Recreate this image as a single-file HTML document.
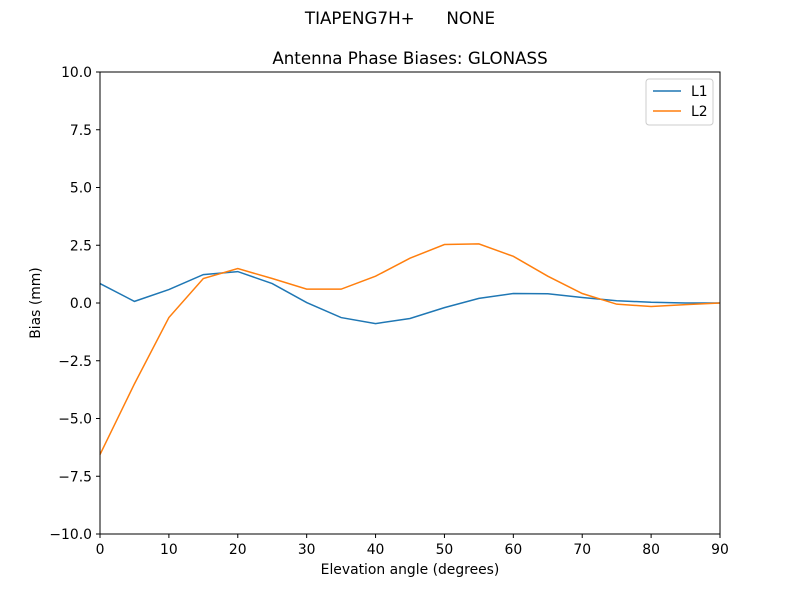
<!DOCTYPE html>
<html><head><meta charset="utf-8"><style>
body{margin:0;background:#fff;}
svg{font-family:"DejaVu Sans","Liberation Sans",sans-serif;}
text{white-space:pre;}
</style></head><body>
<svg id="chart" width="800" height="600">
<rect width="800" height="600" fill="#fff"/>
<text x="400" y="24" font-size="16.7" text-anchor="middle" xml:space="preserve">TIAPENG7H+      NONE</text>
<text x="410" y="64" font-size="16.7" text-anchor="middle">Antenna Phase Biases: GLONASS</text>
<g id="ticks"></g>
<g id="series"></g>
<rect x="100" y="72" width="620" height="462" fill="none" stroke="#000" stroke-width="1"/>
<text x="410" y="574" font-size="13.9" text-anchor="middle">Elevation angle (degrees)</text>
<text transform="translate(40,303) rotate(-90)" font-size="13.9" text-anchor="middle">Bias (mm)</text>
<g>
<rect x="646" y="79" width="67" height="46" rx="3" fill="#fff" stroke="#ccc"/>
<line x1="653" y1="91" x2="681" y2="91" stroke="#1f77b4" stroke-width="1.5"/>
<text x="691" y="96" font-size="13.9">L1</text>
<line x1="653" y1="111" x2="681" y2="111" stroke="#ff7f0e" stroke-width="1.5"/>
<text x="691" y="116" font-size="13.9">L2</text>
</g>
</svg>
<script>
const elevations=[0,5,10,15,20,25,30,35,40,45,50,55,60,65,70,75,80,85,90];
const l1Values=[0.84,0.07,0.58,1.23,1.36,0.84,0.02,-0.63,-0.89,-0.67,-0.2,0.2,0.41,0.4,0.24,0.1,0.03,0.0,0.0];
const l2Values=[-6.56,-3.5,-0.63,1.06,1.49,1.06,0.6,0.6,1.16,1.94,2.53,2.56,2.02,1.16,0.41,-0.05,-0.15,-0.07,0.0];
const xTicks=[0,10,20,30,40,50,60,70,80,90];
const yTicks=[-10,-7.5,-5,-2.5,0,2.5,5,7.5,10];
const X=v=>100+v/90*620;
const Y=v=>303-v*23.1;
const NS="http://www.w3.org/2000/svg";
const tg=document.getElementById('ticks');
xTicks.forEach(t=>{
 const l=document.createElementNS(NS,'line');
 l.setAttribute('x1',X(t));l.setAttribute('x2',X(t));l.setAttribute('y1',534);l.setAttribute('y2',538);l.setAttribute('stroke','#000');
 
 
 tg.appendChild(l);
 const tx=document.createElementNS(NS,'text');
 tx.setAttribute('x',X(t));tx.setAttribute('y',554);tx.setAttribute('font-size','13.9');tx.setAttribute('text-anchor','middle');
 tx.textContent=t;
 
 
 tg.appendChild(tx);
});
yTicks.forEach(t=>{
 const l=document.createElementNS(NS,'line');
 l.setAttribute('x1',96);l.setAttribute('x2',100);l.setAttribute('y1',Y(t));l.setAttribute('y2',Y(t));l.setAttribute('stroke','#000');
 
 
 tg.appendChild(l);
 const tx=document.createElementNS(NS,'text');
 tx.setAttribute('x',92);tx.setAttribute('y',Y(t)+5);tx.setAttribute('font-size','13.9');tx.setAttribute('text-anchor','end');
 tx.textContent=(t<0?'\u2212':'')+Math.abs(t).toFixed(1);
 
 
 tg.appendChild(tx);
});
const sg=document.getElementById('series');
function line(vals,color,name){
 const p=document.createElementNS(NS,'polyline');
 p.setAttribute('points',vals.map((v,i)=>X(elevations[i])+','+Y(v)).join(' '));
 p.setAttribute('fill','none');p.setAttribute('stroke',color);p.setAttribute('stroke-width','1.5');
 
 
 sg.appendChild(p);
}
line(l1Values,'#1f77b4','series-l1');
line(l2Values,'#ff7f0e','series-l2');
</script>
</body></html>
